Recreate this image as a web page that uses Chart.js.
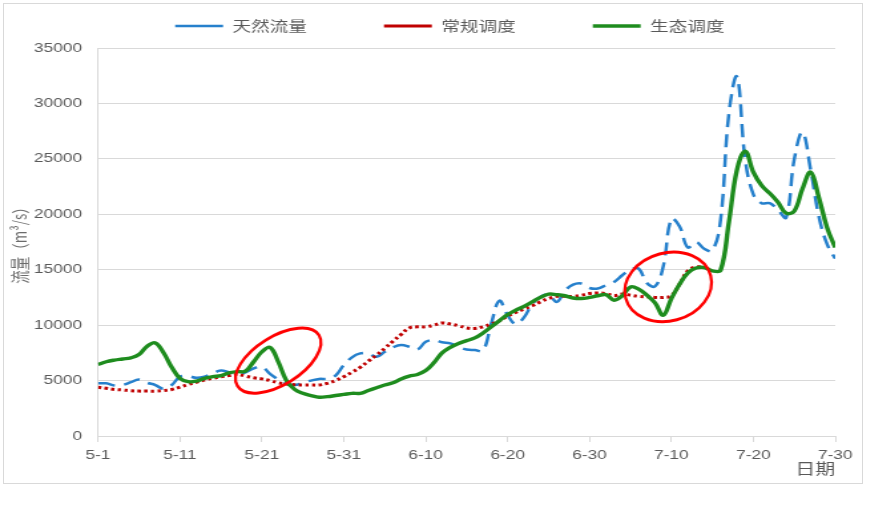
<!DOCTYPE html>
<html lang="zh-CN">
<head>
<meta charset="utf-8">
<title>流量过程对比</title>
<script src="https://cdn.jsdelivr.net/npm/chart.js@4.4.1/dist/chart.umd.min.js"></script>
<style>
  html, body { margin: 0; padding: 0; background: #fff; }
  body { width: 870px; height: 506px; position: relative; overflow: hidden; }
  .frame { position: absolute; left: 3px; top: 3px; width: 860px; height: 481px; border: 1px solid #d9d9d9; box-sizing: border-box; }
  .stretch { position: absolute; left: 0; top: 0; width: 654px; height: 506px; transform: scaleX(1.33); transform-origin: 0 0; }
</style>
</head>
<body>
<div class="frame"></div>
<div class="stretch"><canvas id="flowChart"></canvas></div>
<script>
// the original figure is stretched sideways, so the canvas is drawn narrow and widened by css
const STRETCH = 1.33;
const CJK = '"Noto Sans CJK SC", sans-serif';

const dateTicks = ['5-1', '5-11', '5-21', '5-31', '6-10', '6-20', '6-30', '7-10', '7-20', '7-30'];

// daily flow (m3/s), day 0 = 5-1
const natural = [
    4750, 4750, 4550, 4600, 4850, 5100, 4800, 4600, 4250, 4600,
    5350, 5400, 5250, 5350, 5650, 5900, 5750, 5600, 5750, 6100,
    6250, 5600, 5100, 4700, 4600, 4800, 5000, 5150, 5150, 5450,
    6400, 7100, 7450, 7450, 7150, 7600, 8000, 8200, 8050, 7800,
    8500, 8650, 8450, 8350, 8050, 7800, 7750, 7700, 10150, 12200,
    10900, 10100, 10700, 11900, 12550, 12750, 12100, 13100, 13650, 13750,
    13350, 13300, 13600, 13900, 14500, 15000, 15100, 13800, 13500, 15300,
    19600, 18900, 17000, 17500, 16900, 16700, 19500, 29000, 32400, 25000,
    21800, 21000, 21000, 20400, 19700, 25000, 27400, 24000, 19800, 17300,
    16000
];
const regular = [
    4400, 4300, 4200, 4150, 4080, 4050, 4050, 4050, 4100, 4200,
    4400, 4650, 4850, 5050, 5200, 5350, 5450, 5550, 5400, 5250,
    5150, 5000, 4800, 4700, 4620, 4600, 4600, 4600, 4750, 5000,
    5350, 5750, 6200, 6750, 7300, 7900, 8550, 9150, 9750, 9850,
    9850, 10000, 10200, 10100, 9950, 9750, 9700, 9850, 10100, 10400,
    10800, 11150, 11450, 11750, 12100, 12400, 12600, 12600, 12600, 12700,
    12850, 12900, 12850, 12650, 12800, 12700, 12600, 12550, 12500, 12500,
    12650, 13700, 14900, 15250, 15250
];
const ecological = [
    6450, 6700, 6850, 6950, 7050, 7350, 8100, 8400, 7500, 6200,
    5200, 4900, 4950, 5200, 5350, 5450, 5700, 5800, 5850, 6700,
    7600, 8000, 6700, 5000, 4200, 3850, 3650, 3500, 3550, 3650,
    3750, 3850, 3850, 4100, 4350, 4600, 4800, 5150, 5400, 5550,
    5900, 6600, 7500, 8000, 8350, 8600, 8850, 9300, 9850, 10400,
    10950, 11350, 11700, 12100, 12500, 12800, 12750, 12650, 12450, 12400,
    12500, 12650, 12750, 12250, 12650, 13450, 13250, 12700, 12000, 10900,
    12400, 13700, 14700, 15150, 15200, 14900, 14950, 19200, 24000, 25700,
    23800, 22600, 21900, 21100, 20100, 20300, 22300, 23800, 21500, 18800,
    17000
];

// red rings drawn round two periods (day, flow)
const ringDays = [22, 69.6];
const ringFlows = [6800, 13450];

function points(values) {
    return values.map((v, i) => ({ x: i, y: v }));
}

const rings = {
    id: 'rings',
    afterDatasetsDraw(chart) {
        const { ctx, scales } = chart;
        const shape = [[48, 24, -0.555], [44, 34, -0.26]];
        ctx.save();
        ctx.scale(1 / STRETCH, 1);
        ctx.strokeStyle = '#ff0000';
        ctx.lineWidth = 3;
        ringDays.forEach((d, i) => {
            const cx = scales.x.getPixelForValue(d) * STRETCH;
            const cy = scales.y.getPixelForValue(ringFlows[i]);
            ctx.beginPath();
            ctx.ellipse(cx, cy, shape[i][0], shape[i][1], shape[i][2], 0, Math.PI * 2);
            ctx.stroke();
        });
        ctx.restore();
    }
};

Chart.defaults.font.family = '"Liberation Sans", "Noto Sans CJK SC", sans-serif';
Chart.defaults.color = '#595959';

new Chart(document.getElementById('flowChart'), {
    type: 'line',
    data: {
        datasets: [{
            label: '天然流量',
            data: points(natural),
            borderColor: '#2680cc',
            borderWidth: 2.5,
            borderDash: [13, 7],
            order: 2
        }, {
            label: '常规调度',
            data: points(regular),
            borderColor: '#c00000',
            borderWidth: 3,
            borderDash: [2.5, 2.5],
            order: 1
        }, {
            label: '生态调度',
            data: points(ecological),
            borderColor: '#1e8c1e',
            borderWidth: 3.4,
            order: 0
        }]
    },
    options: {
        responsive: true,
        maintainAspectRatio: false,
        animation: false,
        elements: {
            point: { radius: 0 },
            line: { tension: 0.4, fill: false, borderCapStyle: 'butt' }
        },
        layout: { padding: { top: -39, right: 26, bottom: 28.5, left: 0 } },
        plugins: {
            legend: {
                position: 'top',
                align: 'start',
                fullSize: false,
                labels: {
                    usePointStyle: true,
                    pointStyle: 'line',
                    pointStyleWidth: 36,
                    padding: 58,
                    color: '#595959',
                    font: { family: CJK, size: 14 },
                    sort: (a, b) => a.datasetIndex - b.datasetIndex
                }
            },
            // empty strip between legend and plot
            subtitle: { display: true, text: '', weight: 500, padding: 0, font: { size: 5, lineHeight: 1 } },
            tooltip: { enabled: false }
        },
        scales: {
            x: {
                type: 'linear',
                min: 0,
                max: 90,
                border: { color: '#d9d9d9' },
                grid: { drawOnChartArea: false, tickLength: 6, tickColor: '#d9d9d9' },
                ticks: {
                    stepSize: 10,
                    padding: 6,
                    maxRotation: 0,
                    autoSkip: false,
                    font: { size: 13 },
                    callback: (v, i) => dateTicks[i]
                },
                title: { display: true, text: '日期', align: 'end', color: '#595959', font: { family: CJK, size: 15 }, padding: 0 },
                afterFit: (scale) => { scale.height = 41.5; }
            },
            y: {
                min: 0,
                max: 35000,
                border: { color: '#d9d9d9' },
                grid: { color: '#d9d9d9', drawTicks: false },
                ticks: {
                    stepSize: 5000,
                    padding: 12,
                    font: { size: 13 },
                    callback: (v) => String(v)
                },
                title: { display: true, text: '流量（m³/s）', color: '#6b6b6b', font: { family: CJK, size: 13.5 }, padding: { top: 7, bottom: 0 } },
                afterFit: (scale) => { scale.width = 73.7; }
            }
        }
    },
    plugins: [rings]
});
</script>
</body>
</html>
